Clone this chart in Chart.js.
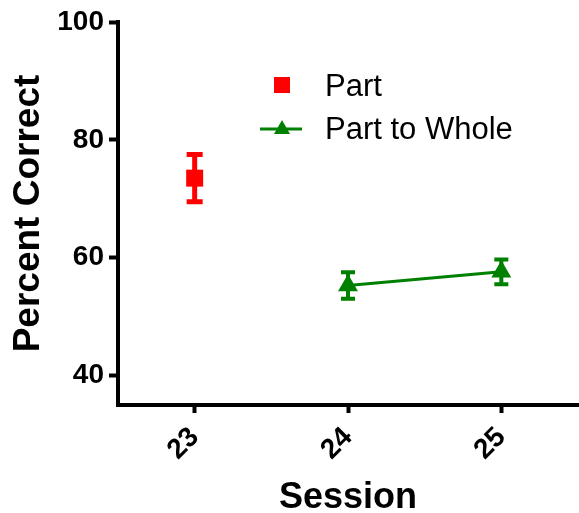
<!DOCTYPE html>
<html>
<head>
<meta charset="utf-8">
<script src="https://cdn.jsdelivr.net/npm/chart.js@4"></script>
<style>
  html, body { margin: 0; padding: 0; background: #fff; }
  #wrap { width: 579px; height: 513px; position: relative; }
</style>
</head>
<body>
<div id="wrap"><canvas id="c" width="579" height="513"></canvas></div>
<script>
// ---- data ----
const sessions = [23, 24, 25];
const partSessions = [23];
const partValues = [73.5];
const partErrors = [4.0];
const wholeSessions = [24, 25];
const wholeValues = [55.3, 57.6];
const wholeErrors = [2.25, 2.1];
const yTicks = [40, 60, 80, 100];
const seriesNames = ['Part', 'Part to Whole'];

const RED = '#ff0000';
const GREEN = '#008000';
const FONT = "'Liberation Sans', Arial, Helvetica, sans-serif";

const errorBars = {
  id: 'errorBars',
  beforeDatasetsDraw(chart) {
    const ctx = chart.ctx;
    const xs = chart.scales.x, ys = chart.scales.y;
    const draw = (xv, yv, ev, color, capW, lw) => {
      const px = xs.getPixelForValue(xv);
      const top = ys.getPixelForValue(yv + ev);
      const bot = ys.getPixelForValue(yv - ev);
      ctx.save();
      ctx.strokeStyle = color;
      ctx.lineWidth = lw;
      ctx.lineCap = 'butt';
      ctx.beginPath();
      ctx.moveTo(px, top); ctx.lineTo(px, bot);
      ctx.moveTo(px - capW / 2, top); ctx.lineTo(px + capW / 2, top);
      ctx.moveTo(px - capW / 2, bot); ctx.lineTo(px + capW / 2, bot);
      ctx.stroke();
      ctx.restore();
    };
    partSessions.forEach((s, i) => draw(s, partValues[i], partErrors[i], RED, 16, 5));
    wholeSessions.forEach((s, i) => draw(s, wholeValues[i], wholeErrors[i], GREEN, 14, 4));
  }
};

const legendPlugin = {
  id: 'customLegend',
  afterDraw(chart) {
    const ctx = chart.ctx;
    ctx.save();
    // Part
    ctx.fillStyle = RED;
    ctx.fillRect(274, 77, 16, 16);
    // Part to Whole
    ctx.strokeStyle = GREEN;
    ctx.lineWidth = 3;
    ctx.beginPath();
    ctx.moveTo(260, 129); ctx.lineTo(302, 129);
    ctx.stroke();
    ctx.fillStyle = GREEN;
    ctx.beginPath();
    ctx.moveTo(282, 120); ctx.lineTo(290, 134); ctx.lineTo(274, 134);
    ctx.closePath(); ctx.fill();
    ctx.fillStyle = '#000';
    ctx.font = "31px " + FONT;
    ctx.textAlign = 'left';
    ctx.textBaseline = 'alphabetic';
    ctx.fillText(seriesNames[0], 325, 96);
    ctx.fillText(seriesNames[1], 325, 139);
    ctx.restore();
  }
};

new Chart(document.getElementById('c'), {
  type: 'scatter',
  data: {
    datasets: [
      {
        label: seriesNames[0],
        data: partSessions.map((s, i) => ({ x: s, y: partValues[i] })),
        pointStyle: 'rect',
        pointRadius: 12,
        backgroundColor: RED,
        borderColor: RED,
        borderWidth: 0,
        showLine: false
      },
      {
        label: seriesNames[1],
        data: wholeSessions.map((s, i) => ({ x: s, y: wholeValues[i] })),
        pointStyle: 'triangle',
        pointRadius: 8.5,
        backgroundColor: GREEN,
        borderColor: GREEN,
        borderWidth: 3,
        showLine: true
      }
    ]
  },
  options: {
    responsive: false,
    animation: false,
    layout: { autoPadding: false, padding: { top: 22, right: 1, left: 0, bottom: 0 } },
    plugins: { legend: { display: false }, tooltip: { enabled: false } },
    scales: {
      x: {
        type: 'linear',
        min: 22.5,
        max: 25.5,
        afterBuildTicks: (s) => { s.ticks = sessions.map(v => ({ value: v })); },
        afterFit: (s) => { s.height = 108; s.paddingLeft = 0; s.paddingRight = 0; },
        grid: { display: true, drawOnChartArea: false, drawTicks: true, tickLength: 8, tickWidth: 4, tickColor: '#000' },
        border: { display: true, color: '#000', width: 4 },
        ticks: {
          color: '#000',
          font: { family: FONT, size: 28, weight: 'bold' },
          minRotation: 45, maxRotation: 45,
          padding: 8,
          callback: (v) => String(v)
        },
        title: {
          display: true, text: 'Session', color: '#000',
          font: { family: FONT, size: 36, weight: 'bold', lineHeight: 0.8 },
          padding: { top: 0, bottom: 1 }
        }
      },
      y: {
        min: 35,
        max: 100,
        afterBuildTicks: (s) => { s.ticks = yTicks.map(v => ({ value: v })); },
        afterFit: (s) => { s.width = 118; },
        grid: { display: true, drawOnChartArea: false, drawTicks: true, tickLength: 9, tickWidth: 4, tickColor: '#000' },
        border: { display: true, color: '#000', width: 4 },
        ticks: {
          color: '#000',
          font: { family: FONT, size: 28, weight: 'bold' },
          padding: 5
        },
        title: {
          display: true, text: 'Percent Correct', color: '#000',
          font: { family: FONT, size: 37, weight: 'bold', lineHeight: 1 },
          padding: { top: 10, bottom: 0 }
        }
      }
    }
  },
  plugins: [errorBars, legendPlugin]
});
</script>
</body>
</html>
